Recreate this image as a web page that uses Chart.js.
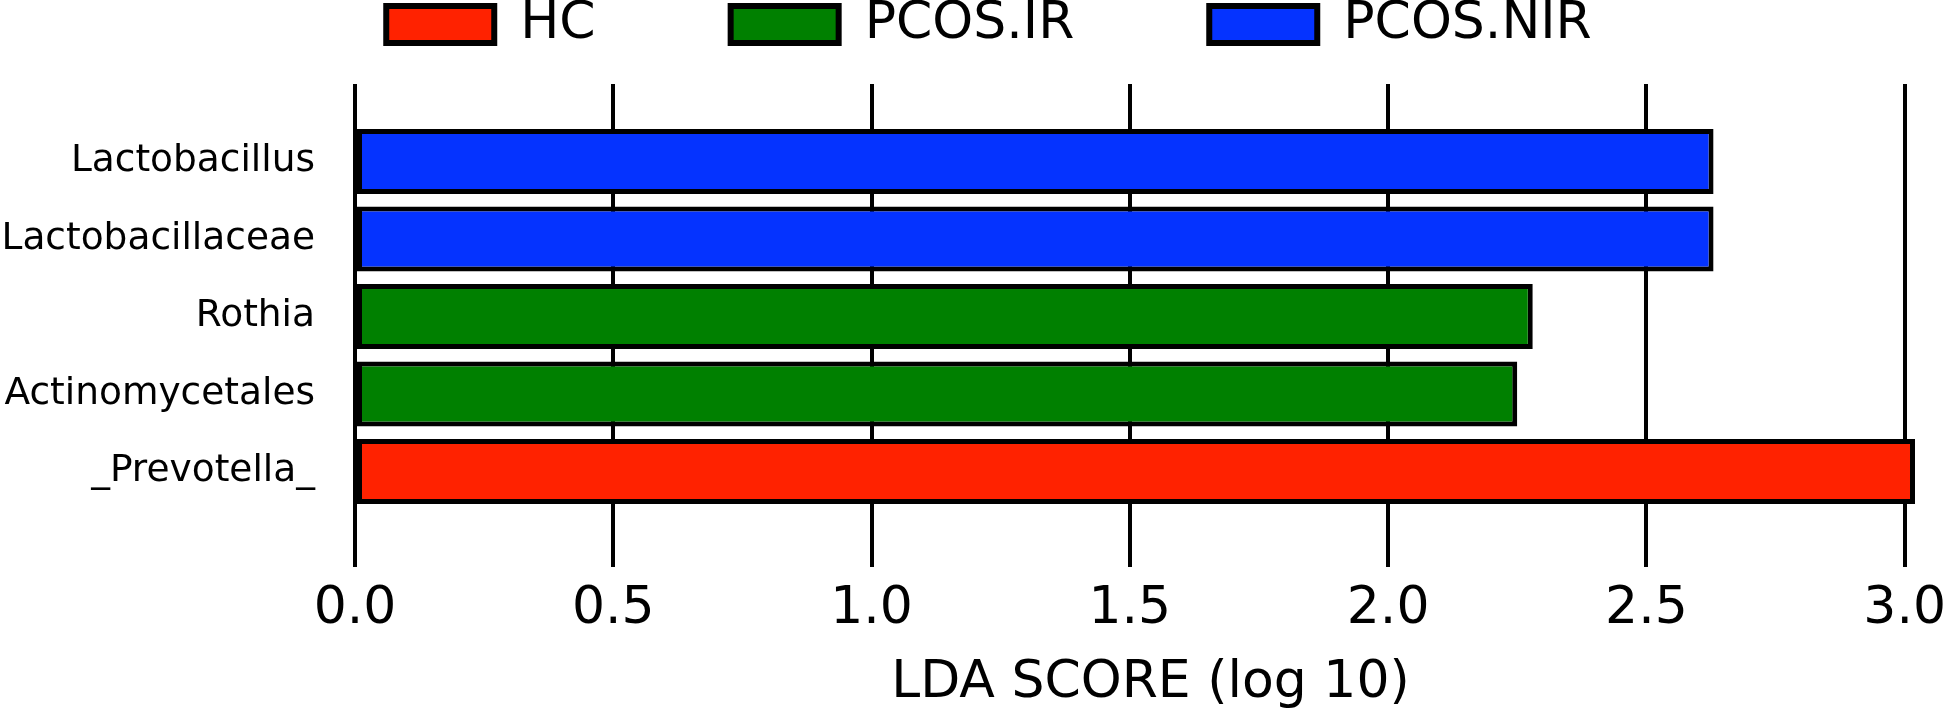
<!DOCTYPE html>
<html>
<head>
<meta charset="UTF-8">
<title>LEfSe LDA</title>
<script src="https://cdn.jsdelivr.net/npm/chart.js"></script>
<style>
  html, body { margin: 0; padding: 0; background: #fff; overflow: hidden; }
  #wrap { width: 1946px; height: 715px; }
</style>
</head>
<body>
<div id="wrap"><canvas id="ldaChart"></canvas></div>

<script>
    // taxa, top to bottom
    const categories = ['Lactobacillus', 'Lactobacillaceae', 'Rothia', 'Actinomycetales', '_Prevotella_'];
    const taxonGroup = ['PCOS.NIR', 'PCOS.NIR', 'PCOS.IR', 'PCOS.IR', 'HC'];
    const ldaScores = [2.63, 2.63, 2.28, 2.25, 3.02];

    // legend order and colours
    const groups = ['HC', 'PCOS.IR', 'PCOS.NIR'];
    const groupColors = ['#ff2200', '#008000', '#0533ff'];

    const xTickValues = [0, 0.5, 1.0, 1.5, 2.0, 2.5, 3.0];

    Chart.defaults.font.family = 'DejaVu Sans';
    Chart.defaults.color = '#000';

    // one dataset per group, bars keep their row index
    const datasets = groups.map(function (g, gi) {
        const pts = [];
        categories.forEach(function (c, i) {
            if (taxonGroup[i] === g) pts.push({ x: ldaScores[i], y: i });
        });
        return {
            label: g,
            data: pts,
            backgroundColor: groupColors[gi],
            borderColor: '#000',
            borderWidth: 5,
            borderSkipped: false,
            grouped: false,
            categoryPercentage: 1,
            barPercentage: 0.84
        };
    });

    // extra room between legend and plot
    const legendGap = {
        id: 'legendGap',
        beforeInit(chart) {
            const fit = chart.legend.fit;
            chart.legend.fit = function () {
                fit.bind(chart.legend)();
                this.height += 23.5;
            };
        }
    };

    new Chart(document.getElementById('ldaChart'), {
        type: 'bar',
        data: { datasets: datasets },
        plugins: [legendGap],
        options: {
            indexAxis: 'y',
            responsive: true,
            maintainAspectRatio: false,
            animation: false,
            // negative right padding only nudges the legend to the right
            layout: { padding: { top: -136.5, left: 0, right: -32, bottom: 0 } },
            plugins: {
                tooltip: { enabled: false },
                legend: {
                    position: 'top',
                    align: 'center',
                    labels: {
                        boxWidth: 108,
                        boxHeight: 37,
                        padding: 135,
                        font: { size: 52 },
                        generateLabels: function (chart) {
                            const items = Chart.defaults.plugins.legend.labels.generateLabels(chart);
                            items.forEach(function (it) { it.lineWidth = 6; });
                            return items;
                        }
                    }
                }
            },
            scales: {
                x: {
                    type: 'linear',
                    position: 'bottom',
                    min: 0,
                    max: 3.08,
                    z: 1,
                    border: { display: false },
                    grid: { color: '#000', lineWidth: 4, tickLength: 18, drawTicks: true },
                    afterBuildTicks: function (scale) {
                        scale.ticks = xTickValues.map(function (v) { return { value: v }; });
                    },
                    afterFit: function (scale) {
                        scale.paddingRight = 0;
                    },
                    ticks: {
                        padding: 11.6,
                        font: { size: 52 },
                        callback: function (v) { return Number(v).toFixed(1); }
                    },
                    title: {
                        display: true,
                        text: 'LDA SCORE (log 10)',
                        font: { size: 52 },
                        padding: { top: 0, bottom: 0 }
                    }
                },
                y: {
                    type: 'linear',
                    reverse: true,
                    offset: false,
                    min: -1,
                    max: 5,
                    border: { display: false },
                    grid: { display: false, drawTicks: false },
                    afterBuildTicks: function (scale) {
                        scale.ticks = categories.map(function (c, i) { return { value: i }; });
                    },
                    afterFit: function (scale) {
                        scale.width = 355;
                    },
                    ticks: {
                        padding: 40,
                        font: { size: 37.5 },
                        callback: function (v) { return categories[v]; }
                    }
                }
            }
        }
    });
</script>
</body>
</html>
